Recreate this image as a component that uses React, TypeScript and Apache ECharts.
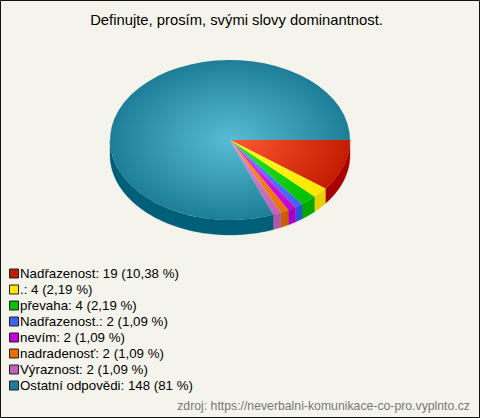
import React, { useEffect, useRef } from "react";
import * as echarts from "echarts";

const titleText = "Definujte, prosím, svými slovy dominantnost.";
const sourceText = "zdroj: https://neverbalni-komunikace-co-pro.vyplnto.cz";
const categories = ["Nadřazenost", ".", "převaha", "Nadřazenost.", "nevím", "nadradenosť", "Výraznost", "Ostatní odpovědi"];
const values = [19, 4, 4, 2, 2, 2, 2, 148];
const percentTexts = ["10,38 %", "2,19 %", "2,19 %", "1,09 %", "1,09 %", "1,09 %", "1,09 %", "81 %"];
const centerColors = ["#ff5a34", "#ffff22", "#33e533", "#6a8cff", "#e835f5", "#ff9a1a", "#d98be0", "#58bcd4"];
const edgeColors = ["#c41c00", "#ffe600", "#00c000", "#3f62f0", "#c000d8", "#e87000", "#c062b8", "#1e7e98"];
const sideColors = ["#a80000", "#e8d000", "#00a800", "#3050e0", "#a800c0", "#c86000", "#b058a8", "#005f78"];
const legendColors = ["#c01a00", "#ffe600", "#00c000", "#3f62f0", "#c000d8", "#e87000", "#c062b8", "#1e7e98"];

const total = values.reduce((a, b) => a + b, 0);
const FONT = "'Liberation Sans', Arial, sans-serif";

export default function App() {
  const ref = useRef<HTMLDivElement>(null);
  useEffect(() => {
    document.body.style.margin = "0";
    const chart = echarts.init(ref.current!, null, { renderer: "svg" });
    const cx = 230, cy = 140, rx = 120, ry = 80, depth = 15;
    const renderItem = (params: any, api: any) => {
      const i = params.dataIndex;
      let before = 0;
      for (let k = 0; k < i; k++) before += values[k];
      const start = (before / total) * Math.PI * 2;
      const end = ((before + api.value(0)) / total) * Math.PI * 2;
      const children: any[] = [];
      const sStart = Math.min(start, Math.PI);
      const sEnd = Math.min(end, Math.PI);
      if (sEnd > sStart) {
        const top: number[][] = [];
        const steps = Math.max(2, Math.ceil((sEnd - sStart) / 0.02));
        for (let s = 0; s <= steps; s++) {
          const a = sStart + ((sEnd - sStart) * s) / steps;
          top.push([cx + rx * Math.cos(a), cy + ry * Math.sin(a)]);
        }
        const bottom = top.map((p) => [p[0], p[1] + depth]).reverse();
        children.push({
          type: "polygon",
          shape: { points: top.concat(bottom) },
          style: { fill: sideColors[i], stroke: sideColors[i], lineWidth: 0.3 },
        });
      }
      children.push({
        type: "group",
        x: cx,
        y: cy,
        scaleY: ry / rx,
        children: [
          {
            type: "sector",
            shape: { cx: 0, cy: 0, r: rx, r0: 0, startAngle: start, endAngle: end, clockwise: true },
            style: {
              fill: new echarts.graphic.RadialGradient(0, 0, rx, [
                { offset: 0, color: centerColors[i] },
                { offset: 1, color: edgeColors[i] },
              ], true),
              stroke: "none",
            },
          },
        ],
      });
      return { type: "group", children };
    };
    const legendItems: any[] = [];
    categories.forEach((c, i) => {
      const y = 273.5 + i * 16;
      legendItems.push({
        type: "rect",
        shape: { x: 9.5, y: y - 4.5, width: 9, height: 9 },
        style: { fill: legendColors[i], stroke: "#222", lineWidth: 1 },
      });
      legendItems.push({
        type: "text",
        x: 20,
        y,
        style: {
          text: `${c}: ${values[i]} (${percentTexts[i]})`,
          font: `13.3px ${FONT}`,
          fill: "#000",
          verticalAlign: "middle",
        },
      });
    });
    chart.setOption({
      animation: false,
      backgroundColor: "#f5f4ec",
      series: [
        {
          type: "custom",
          coordinateSystem: "none",
          renderItem,
          silent: true,
          data: values.map((v, i) => ({ name: categories[i], value: [v] })),
        },
      ],
      graphic: [
        {
          type: "rect",
          shape: { x: 0.5, y: 0.5, width: 479, height: 417 },
          style: { fill: "none", stroke: "#111", lineWidth: 1 },
        },
        {
          type: "text", x: 236.5, y: 20,
          style: { text: titleText, font: `14.8px ${FONT}`, fill: "#000", align: "center", verticalAlign: "middle" },
        },
        {
          type: "text", x: 186, y: 122,
          style: { text: percentTexts[7], font: `10px ${FONT}`, fill: "#000", align: "center", verticalAlign: "middle" },
        },
        {
          type: "text", x: 293, y: 155,
          style: { text: percentTexts[0], font: `10px ${FONT}`, fill: "#fff", align: "center", verticalAlign: "middle" },
        },
        ...legendItems,
        {
          type: "text", x: 470, y: 406,
          style: { text: sourceText, font: `12.25px ${FONT}`, fill: "#777", align: "right", verticalAlign: "middle" },
        },
      ],
    });
    return () => chart.dispose();
  }, []);
  return <div ref={ref} style={{ width: 480, height: 418 }} />;
}
